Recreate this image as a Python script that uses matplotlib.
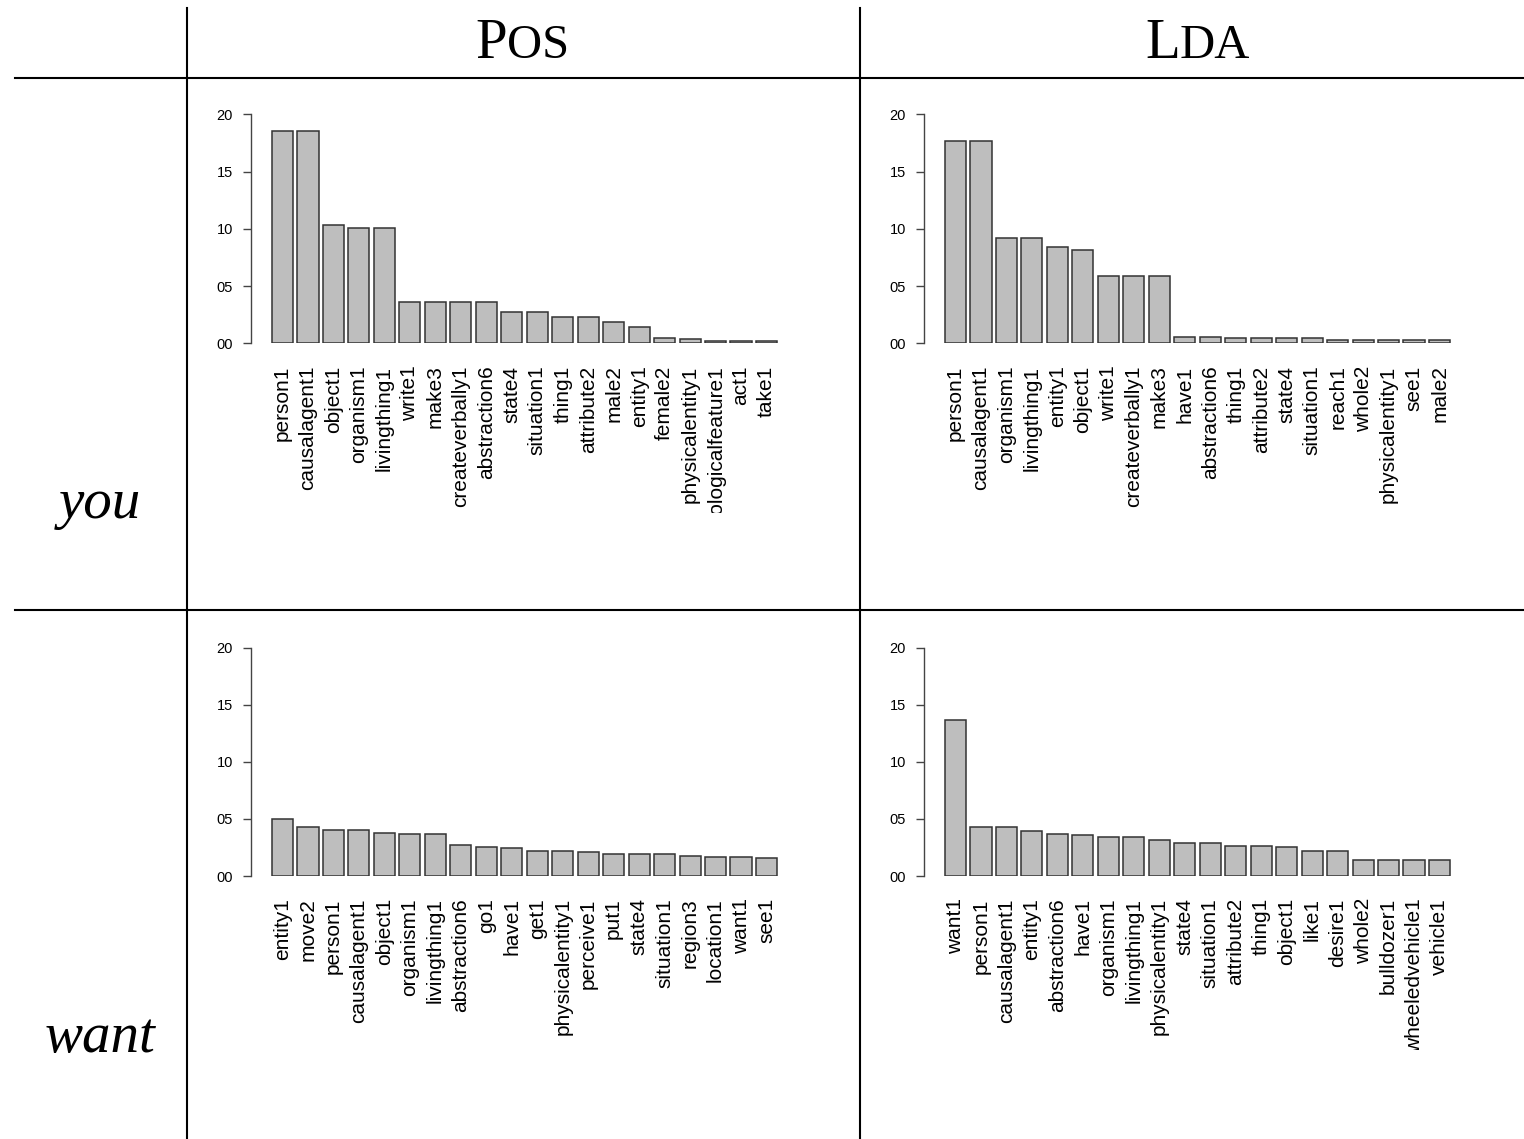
import matplotlib.pyplot as plt
from matplotlib.lines import Line2D
from matplotlib.transforms import Bbox, TransformedBbox

# top concepts for "you" / "want" under the two models
you_pos_names = ['person1', 'causalagent1', 'object1', 'organism1', 'livingthing1',
                 'write1', 'make3', 'createverbally1', 'abstraction6', 'state4',
                 'situation1', 'thing1', 'attribute2', 'male2', 'entity1',
                 'female2', 'physicalentity1', 'morphologicalfeature1', 'act1', 'take1']
you_pos_vals = [0.185, 0.185, 0.103, 0.101, 0.101,
                0.036, 0.036, 0.036, 0.036, 0.027,
                0.027, 0.023, 0.023, 0.019, 0.014,
                0.0047, 0.0041, 0.0021, 0.0021, 0.0021]

you_lda_names = ['person1', 'causalagent1', 'organism1', 'livingthing1', 'entity1',
                 'object1', 'write1', 'createverbally1', 'make3', 'have1',
                 'abstraction6', 'thing1', 'attribute2', 'state4', 'situation1',
                 'reach1', 'whole2', 'physicalentity1', 'see1', 'male2']
you_lda_vals = [0.177, 0.177, 0.0916, 0.0916, 0.0839,
                0.0816, 0.0588, 0.0588, 0.0588, 0.0059,
                0.0053, 0.0044, 0.0044, 0.0044, 0.0044,
                0.0032, 0.0032, 0.0032, 0.0026, 0.0026]

want_pos_names = ['entity1', 'move2', 'person1', 'causalagent1', 'object1',
                  'organism1', 'livingthing1', 'abstraction6', 'go1', 'have1',
                  'get1', 'physicalentity1', 'perceive1', 'put1', 'state4',
                  'situation1', 'region3', 'location1', 'want1', 'see1']
want_pos_vals = [0.0502, 0.0432, 0.0400, 0.0400, 0.0377,
                 0.0368, 0.0368, 0.0274, 0.0254, 0.0243,
                 0.0222, 0.0219, 0.0207, 0.0190, 0.0190,
                 0.0190, 0.0172, 0.0166, 0.0163, 0.0158]

want_lda_names = ['want1', 'person1', 'causalagent1', 'entity1', 'abstraction6',
                  'have1', 'organism1', 'livingthing1', 'physicalentity1', 'state4',
                  'situation1', 'attribute2', 'thing1', 'object1', 'like1',
                  'desire1', 'whole2', 'bulldozer1', 'wheeledvehicle1', 'vehicle1']
want_lda_vals = [0.1367, 0.0427, 0.0427, 0.0392, 0.0365,
                 0.0359, 0.0339, 0.0339, 0.0315, 0.0289,
                 0.0289, 0.0263, 0.0263, 0.0251, 0.0216,
                 0.0216, 0.0140, 0.0140, 0.0140, 0.0140]

col_titles = [('P', 'OS'), ('L', 'DA')]
row_titles = ['you', 'want']
y_ticks = [0.0, 0.05, 0.10, 0.15, 0.20]

W, H = 1524, 1139
fig = plt.figure(figsize=(W / 100, H / 100), dpi=100)


def px_rect(x0, y0, x1, y1):
    return [x0 / W, 1 - y1 / H, (x1 - x0) / W, (y1 - y0) / H]


def barpanel(rect, names, vals, clip_y):
    ax = fig.add_axes(rect)
    xs = [0.7 + 1.2 * i for i in range(len(vals))]
    ax.bar(xs, vals, width=1.0, color='#bebebe', edgecolor='#333333', linewidth=1.1)
    ax.set_xlim(-0.78, 24.98)
    ax.set_ylim(0, 0.2)
    for s in ['top', 'right', 'bottom']:
        ax.spines[s].set_visible(False)
    ax.spines['left'].set_color('#444444')
    ax.spines['left'].set_linewidth(1.0)
    ax.set_yticks(y_ticks)
    ax.set_yticklabels([('%.2f' % v)[2:] for v in y_ticks],
                       fontsize=10.5, family='Liberation Sans')
    ax.tick_params(axis='y', length=6, width=1.0, color='#444444', pad=7)
    ax.set_xticks(xs)
    ax.set_xticklabels(names, rotation=90, fontsize=15, family='Liberation Sans')
    ax.tick_params(axis='x', length=0, pad=16)
    clip = TransformedBbox(Bbox([[0, 1 - clip_y / H], [1, 1]]), fig.transFigure)
    for lab in ax.get_xticklabels():
        lab.set_clip_box(clip)
        lab.set_clip_on(True)
    return ax


barpanel(px_rect(251, 114.3, 798, 343.3), you_pos_names, you_pos_vals, 513)
barpanel(px_rect(924, 114.3, 1471, 343.3), you_lda_names, you_lda_vals, 513)
barpanel(px_rect(251, 647.7, 798, 876), want_pos_names, want_pos_vals, 1050)
barpanel(px_rect(924, 647.7, 1471, 876), want_lda_names, want_lda_vals, 1050)

# table rules
for (x0, y0, x1, y1) in [(15, 78, 1524, 78), (15, 610, 1524, 610),
                         (187, 8, 187, 1139), (860, 8, 860, 1139)]:
    fig.add_artist(Line2D([x0 / W, x1 / W], [1 - y0 / H, 1 - y1 / H],
                          transform=fig.transFigure, color='black', lw=1.5))

# column headers in small caps
for (big, small), xsplit in zip(col_titles, [507, 1180]):
    fig.text(xsplit / W, 1 - 58 / H, big, ha='right', va='baseline',
             fontsize=41, family='Liberation Serif')
    fig.text(xsplit / W, 1 - 58 / H, small, ha='left', va='baseline',
             fontsize=35, family='Liberation Serif')

# row headers
for label, yb in zip(row_titles, [518, 1052]):
    fig.text(100 / W, 1 - yb / H, label, ha='center', va='baseline',
             fontsize=41, style='italic', family='Liberation Serif')

fig.savefig('out.png', dpi=100)
